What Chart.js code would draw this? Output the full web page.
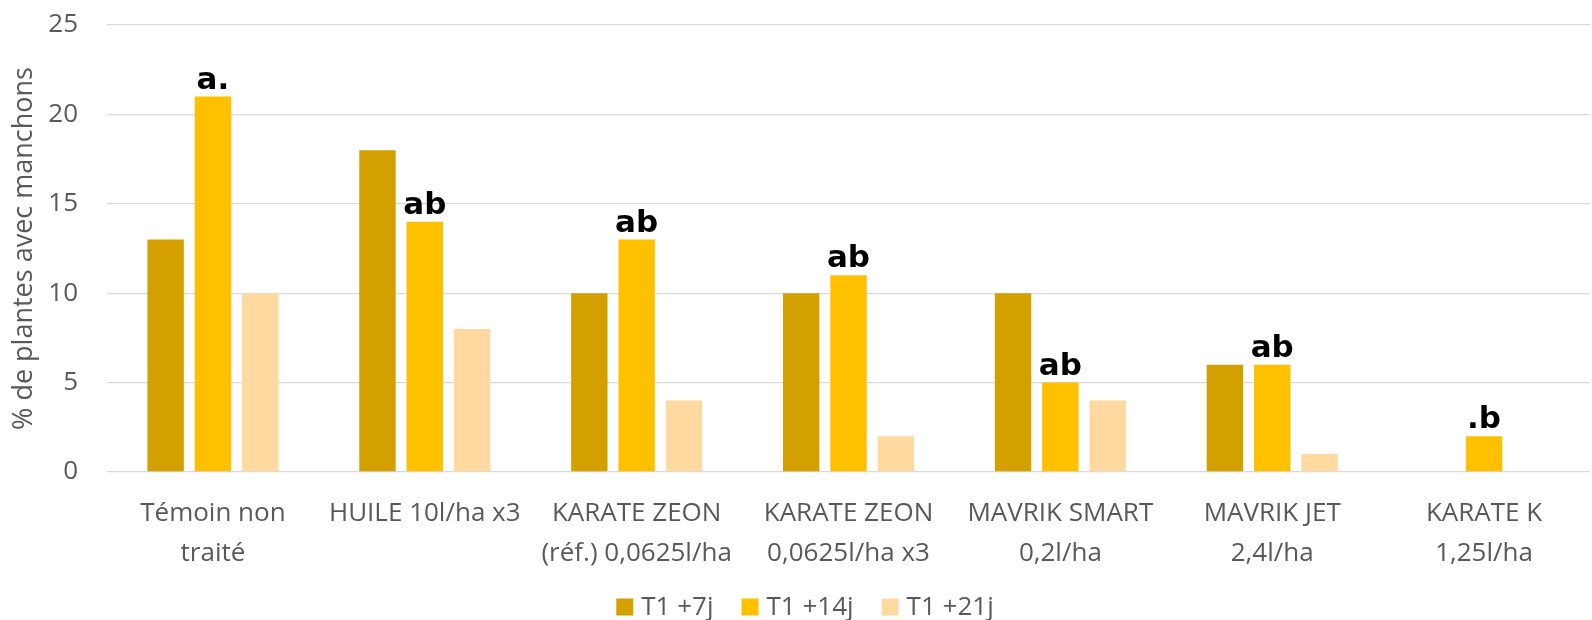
<!DOCTYPE html>
<html>
<head>
<meta charset="utf-8">
<script src="https://cdn.jsdelivr.net/npm/chart.js@4"></script>
<style>
  html, body { margin: 0; padding: 0; background: #fff; }
  #wrap { width: 1592px; height: 620px; position: relative; }
</style>
</head>
<body>
<div id="wrap"><canvas id="chart"></canvas></div>
<script>
// ===== données =====
const categories = [
  ["Témoin non", "traité"],
  ["HUILE 10l/ha x3"],
  ["KARATE ZEON", "(réf.) 0,0625l/ha"],
  ["KARATE ZEON", "0,0625l/ha x3"],
  ["MAVRIK SMART", "0,2l/ha"],
  ["MAVRIK JET", "2,4l/ha"],
  ["KARATE K", "1,25l/ha"]
];
const seriesNames = ["T1 +7j", "T1 +14j", "T1 +21j"];
const t1_7j  = [13, 18, 10, 10, 10, 6, 0];
const t1_14j = [21, 14, 13, 11, 5, 6, 2];
const t1_21j = [10, 8, 4, 2, 4, 1, 0];
const letters = ["a.", "ab", "ab", "ab", "ab", "ab", ".b"];   // groupes stat. sur T1 +14j
const yTicks = [0, 5, 10, 15, 20, 25];

const colors = ["#D4A000", "#FFC000", "#FFD9A0"];
const FONT = "'Open Sans', 'Noto Sans', sans-serif";
const GREY = "#595959";

// lettres au-dessus des barres T1 +14j
const letterPlugin = {
  id: 'letters',
  afterDatasetsDraw(chart) {
    const ctx = chart.ctx;
    const meta = chart.getDatasetMeta(1);
    ctx.save();
    ctx.font = "bold 31px 'DejaVu Sans', sans-serif";
    ctx.fillStyle = "#000";
    ctx.textAlign = "center";
    ctx.textBaseline = "alphabetic";
    meta.data.forEach((bar, i) => {
      ctx.fillText(letters[i], bar.x, bar.y - 8);
    });
    ctx.restore();
  }
};

// légende dessinée à la main (espacement type Excel)
const legendPlugin = {
  id: 'customLegend',
  afterDraw(chart) {
    const ctx = chart.ctx;
    const box = 17, gapText = 8, gapItem = 28;
    ctx.save();
    ctx.font = "26px " + FONT;
    const widths = seriesNames.map(n => ctx.measureText(n).width);
    const total = widths.reduce((s, w) => s + box + gapText + w, 0) + gapItem * (seriesNames.length - 1);
    let x = 805 - total / 2;
    const cy = 607;
    ctx.textBaseline = "middle";
    ctx.textAlign = "left";
    seriesNames.forEach((n, i) => {
      ctx.fillStyle = colors[i];
      ctx.fillRect(x, cy - box / 2, box, box);
      ctx.fillStyle = GREY;
      ctx.fillText(n, x + box + gapText, cy + 1);
      x += box + gapText + widths[i] + gapItem;
    });
    ctx.restore();
  }
};

new Chart(document.getElementById('chart'), {
  type: 'bar',
  data: {
    labels: categories,
    datasets: [
      { label: seriesNames[0], data: t1_7j,  backgroundColor: colors[0] },
      { label: seriesNames[1], data: t1_14j, backgroundColor: colors[1] },
      { label: seriesNames[2], data: t1_21j, backgroundColor: colors[2] }
    ]
  },
  options: {
    responsive: true,
    maintainAspectRatio: false,
    animation: false,
    datasets: { bar: { categoryPercentage: 0.67, barPercentage: 0.77 } },
    layout: { padding: { top: 25, right: 2, left: 0, bottom: 48 } },
    plugins: {
      legend: { display: false },
      tooltip: { enabled: false }
    },
    scales: {
      x: {
        grid: { display: false },
        border: { display: false },
        afterFit(axis) { axis.height = 100; axis.paddingLeft = 0; axis.paddingRight = 0; },
        ticks: {
          font: { family: FONT, size: 26, lineHeight: 1.55 },
          color: GREY,
          maxRotation: 0,
          padding: 13
        }
      },
      y: {
        min: 0, max: 25,
        afterBuildTicks(axis) { axis.ticks = yTicks.map(v => ({ value: v })); },
        afterFit(axis) { axis.width = 107; axis.paddingTop = 0; axis.paddingBottom = 0; },
        grid: { color: "#D9D9D9", lineWidth: 1.3, drawTicks: false },
        border: { display: false },
        ticks: {
          font: { family: FONT, size: 26 },
          color: GREY,
          padding: 29
        },
        title: {
          display: true,
          text: "% de plantes avec manchons",
          font: { family: FONT, size: 27 },
          color: GREY,
          padding: { top: 8, bottom: 0 }
        }
      }
    }
  },
  plugins: [letterPlugin, legendPlugin]
});
</script>
</body>
</html>
